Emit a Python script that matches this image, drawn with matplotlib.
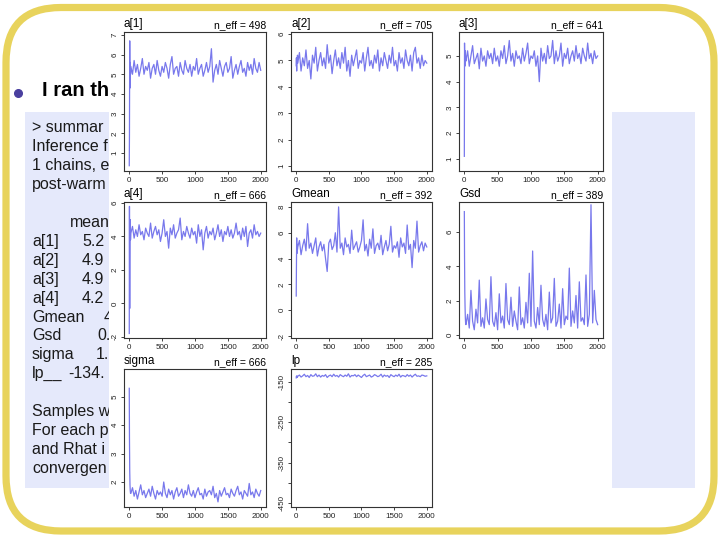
import numpy as np
import matplotlib
matplotlib.use("Agg")
import matplotlib.pyplot as plt
from matplotlib.patches import FancyBboxPatch, Rectangle

plt.rcParams['font.family'] = ['Liberation Sans', 'DejaVu Sans']

# ---------------- data ----------------
early_iter = [1, 4, 8, 12, 16, 20]
main_iter = list(range(25, 2001, 25))
iters = early_iter + main_iter

a1 = [0.35, 1.95, 6.7, 4.3, 5.6, 5.0,
      5.4, 5.0, 5.7, 5.1, 5.5, 4.9, 5.3, 5.8, 5.0, 5.4, 5.2, 5.6, 4.8, 5.3, 5.5, 5.0, 5.7, 5.2, 4.9, 5.4,
      5.1, 5.6, 5.3, 4.8, 5.5, 5.9, 5.0, 5.3, 5.4, 4.9, 5.6, 5.2, 5.0, 5.7, 5.3, 5.1, 5.5, 4.9, 5.4, 5.2,
      5.8, 5.0, 5.3, 5.5, 4.9, 5.2, 5.6, 5.1, 5.4, 6.3, 4.6, 5.2, 5.5, 5.0, 5.7, 5.3, 4.9, 5.4, 5.6, 5.1,
      5.3, 5.9, 4.8, 5.2, 5.5, 5.0, 5.4, 5.7, 5.1, 5.3, 4.9, 5.6, 5.2, 5.5, 5.0, 5.8, 5.3, 5.1, 5.6, 5.2]
a2 = [4.8, 5.1, 4.6, 5.0, 4.9, 5.2,
      4.9, 5.3, 4.6, 5.1, 4.8, 5.4, 4.7, 5.0, 4.3, 5.2, 4.9, 5.5, 4.6, 5.0, 5.3, 4.8, 5.1, 4.7, 5.6, 4.9,
      5.2, 4.5, 5.0, 5.4, 4.8, 5.1, 4.7, 5.3, 4.9, 5.5, 4.6, 5.0, 4.4, 5.2, 4.8, 5.1, 5.4, 4.7, 5.0, 4.9,
      5.3, 4.6, 5.1, 5.5, 4.8, 5.0, 4.7, 5.2, 4.9, 5.4, 4.6, 5.1, 4.8, 5.3, 5.0, 4.7, 5.2, 4.9, 5.5, 4.8,
      5.0, 4.6, 5.3, 4.9, 5.1, 4.7, 5.4, 5.0, 4.8, 5.2, 4.6, 5.3, 5.5, 4.9, 5.1, 4.7, 5.2, 4.8, 5.0, 4.9]
a3 = [1.1, 5.5, 4.6, 5.2, 4.8, 5.0,
      4.8, 5.2, 4.6, 5.0, 5.4, 4.7, 4.9, 5.1, 4.5, 5.3, 4.8, 5.0, 4.6, 5.2, 4.9, 5.1, 4.7, 5.3, 4.8, 5.0,
      4.6, 5.2, 4.9, 5.4, 4.7, 5.0, 5.6, 4.8, 5.1, 4.6, 5.2, 4.9, 5.0, 4.7, 5.3, 4.8, 5.1, 5.5, 4.7, 5.0,
      4.9, 5.2, 4.6, 5.0, 4.0, 5.3, 4.8, 5.1, 4.7, 5.4, 4.9, 5.0, 5.6, 4.7, 5.2, 4.8, 5.0, 5.5, 4.6, 5.1,
      4.9, 5.3, 4.7, 5.0, 5.2, 4.8, 5.4, 4.9, 5.1, 4.7, 5.3, 5.0, 4.8, 5.5, 4.9, 5.1, 4.7, 5.2, 4.9, 5.0]
a4 = [-1.8, 5.8, -0.3, 4.3, 5.0, 3.8,
      4.2, 4.6, 3.9, 4.4, 4.0, 4.7, 4.1, 4.3, 3.8, 4.5, 4.2, 4.0, 4.8, 3.9, 4.3, 4.6, 4.1, 4.4, 3.7, 4.2,
      5.0, 4.0, 4.3, 3.3, 4.5, 4.1, 4.7, 3.9, 4.2, 4.4, 5.1, 3.8, 4.3, 4.0, 4.6, 4.2, 3.9, 4.5, 4.1, 4.3,
      3.6, 4.7, 4.0, 4.4, 3.2, 4.2, 4.6, 3.9, 4.3, 4.1, 4.5, 3.8, 4.2, 4.7, 4.0, 4.4, 3.7, 4.3, 4.1, 4.6,
      4.0, 4.4, 3.9, 4.2, 4.8, 4.1, 4.3, 3.8, 4.5, 4.0, 4.6, 3.4, 4.2, 4.4, 3.9, 4.7, 4.1, 4.3, 4.0, 4.2]
gmean = [1.1, 3.2, 5.6, 4.4, 5.1, 4.7,
         4.9, 5.4, 4.3, 5.0, 5.5, 4.6, 6.7, 4.8, 5.2, 4.4, 5.0, 5.6, 4.2, 4.9, 5.3, 4.6, 5.1, 4.0, 3.0, 5.2,
         5.5, 4.7, 5.0, 6.0, 4.5, 8.0, 4.8, 5.2, 4.3, 5.6, 4.9, 5.1, 4.4, 6.2, 4.7, 5.0, 5.3, 4.5, 4.9, 5.4,
         7.0, 4.6, 5.1, 4.2, 5.5, 4.8, 6.3, 4.4, 5.0, 5.2, 4.7, 5.8, 4.3, 4.9, 5.4, 4.6, 5.1, 6.5, 4.5, 5.0,
         4.8, 5.3, 4.1, 5.6, 4.9, 5.2, 4.4, 6.6, 4.7, 5.1, 3.3, 5.4, 4.8, 6.9, 4.5, 5.0, 5.3, 4.6, 5.2, 4.9]
gsd = [7.2, 4.6, 2.5, 1.6, 1.0, 0.7,
       0.6, 1.2, 0.4, 2.6, 0.8, 0.3, 1.5, 0.7, 3.2, 0.5, 1.0, 0.4, 2.1, 0.9, 0.6, 3.4, 0.8, 0.5, 1.3, 0.3,
       2.4, 0.7, 1.1, 0.4, 3.0, 0.9, 0.6, 2.2, 0.5, 1.4, 0.8, 0.3, 2.8, 0.6, 1.0, 0.4, 1.9, 0.7, 3.6, 0.5,
       4.9, 0.8, 0.4, 1.6, 0.6, 2.9, 0.9, 0.5, 1.2, 0.3, 2.5, 0.7, 1.0, 3.3, 0.5, 0.8, 1.8, 0.4, 2.7, 0.6,
       1.1, 0.9, 3.9, 0.5, 1.4, 0.7, 2.3, 0.4, 3.1, 0.8, 1.0, 0.6, 3.5, 0.5, 1.2, 7.6, 0.7, 2.6, 0.9, 0.6]
sigma = [5.3, 3.6, 2.4, 1.9, 1.7, 1.6,
         1.6, 1.8, 1.5, 1.7, 1.4, 1.65, 1.9, 1.55, 1.7, 1.45, 1.6, 1.75, 1.5, 1.85, 1.6, 1.4, 1.7, 1.55, 1.65, 1.5,
         2.0, 1.6, 1.45, 1.75, 1.55, 1.7, 1.4, 1.65, 1.8, 1.5, 1.6, 1.75, 1.45, 1.7, 1.55, 1.9, 1.6, 1.5, 1.7, 1.45,
         1.65, 1.8, 1.55, 1.6, 1.4, 1.75, 1.5, 1.65, 1.7, 1.55, 1.85, 1.45, 1.6, 1.3, 1.7, 1.5, 1.65, 1.8, 1.55, 1.6,
         1.45, 1.75, 1.6, 1.5, 1.7, 1.85, 1.55, 1.65, 1.4, 1.7, 1.6, 1.5, 1.95, 1.55, 1.65, 1.45, 1.75, 1.6, 1.5, 1.7]
lp = [-140, -136, -138, -135, -139, -137,
      -136, -133, -138, -135, -131, -137, -134, -139, -132, -136, -135, -130, -137, -133, -138, -134, -136, -132, -139, -135,
      -133, -137, -131, -136, -134, -138, -132, -135, -137, -133, -136, -130, -138, -134, -135, -132, -137, -133, -136, -139,
      -134, -131, -137, -135, -133, -138, -136, -132, -134, -137, -135, -131, -138, -133, -136, -134, -139, -132, -135, -137,
      -133, -136, -131, -138, -134, -135, -137, -132, -136, -133, -138, -134, -131, -136, -135, -137, -133, -134, -136, -135]

names = ["a[1]", "a[2]", "a[3]", "a[4]", "Gmean", "Gsd", "sigma", "lp"]
n_eff = [498, 705, 641, 666, 392, 389, 666, 285]
traces = [a1, a2, a3, a4, gmean, gsd, sigma, lp]
yticks = [[1, 2, 3, 4, 5, 6, 7], [1, 2, 3, 4, 5, 6], [1, 2, 3, 4, 5], [-2, 0, 2, 4, 6],
          [-2, 0, 2, 4, 6, 8], [0, 2, 4, 6], [2, 3, 4, 5],
          [-450, -400, -350, -300, -250, -200, -150]]
ytick_labels = [None, None, None, None, None, None, None,
                ["-450", "", "-350", "", "-250", "", "-150"]]
ylims = [(0.08, 7.15), (0.81, 6.08), (0.53, 5.93), (-2.07, 6.06),
         (-2.15, 8.38), (-0.18, 7.76), (1.12, 5.98), (-460, -118)]
xticks = [0, 500, 1000, 1500, 2000]

slide_title = "I ran the"
text_lines = {0: "> summary", 1: "Inference fo", 2: "1 chains, ea", 3: "post-warmu",
              15: "Samples we", 16: "For each pa", 17: "and Rhat is", 18: "convergenc"}
summary_header = "mean"
summary_names = ["a[1]", "a[2]", "a[3]", "a[4]", "Gmean", "Gsd", "sigma", "lp__"]
summary_means = ["5.26", "4.91", "4.90", "4.26", "4.8", "0.85", "1.62", "-134.5"]

# ---------------- figure ----------------
W, H = 720, 540
fig = plt.figure(figsize=(7.2, 5.4), dpi=100)
bg = fig.add_axes([0, 0, 1, 1])
bg.set_xlim(0, W)
bg.set_ylim(H, 0)
bg.axis('off')

border = FancyBboxPatch((6, 7.5), 708, 523.5, boxstyle="round,pad=0,rounding_size=55",
                        fill=False, edgecolor='#E8D35C', linewidth=5.2, zorder=1)
bg.add_patch(border)
bg.add_patch(Rectangle((25, 112), 670, 376, facecolor='#E5E9FB', edgecolor='none', zorder=1))

CUT = 109
clip = Rectangle((0, 0), CUT, H, transform=bg.transData, facecolor='none', edgecolor='none')
bg.add_patch(clip)
renderer = fig.canvas.get_renderer()

def clipped_text(x, y, s, **kw):
    # text partly hidden behind the pasted plot image: keep only what shows left of it
    t = bg.text(x, y, s, va='center', ha='left', zorder=2, **kw)
    t.set_clip_path(clip)
    while len(t.get_text()) > 1:
        ext = t.get_window_extent(renderer=renderer)
        if ext.x1 <= CUT + 2:
            break
        t.set_text(t.get_text()[:-1])
    return t

bg.plot([18], [93], marker='o', markersize=5.5, color='#4A3F9F', zorder=2)
clipped_text(42, 91, slide_title, fontsize=14.5, fontweight='bold', color='black')

fs = 11.5
tc = '#1a1a1a'
for i, s in text_lines.items():
    clipped_text(32, 128 + 18.9 * i, s, fontsize=fs, color=tc)
clipped_text(70, 128 + 18.9 * 5, summary_header, fontsize=fs, color=tc)
val_x = [82, 82, 82, 82, 104, 97, 96, 68]
for k, (nm, mv) in enumerate(zip(summary_names, summary_means)):
    y = 128 + 18.9 * (6 + k)
    clipped_text(32, y, nm, fontsize=fs, color=tc)
    clipped_text(val_x[k], y, mv, fontsize=fs, color=tc)

# white plot image
bg.add_patch(Rectangle((CUT, 15), 612 - CUT, 512, facecolor='white', edgecolor='none', zorder=3))

cols = [(124, 266), (291, 432), (459, 603)]
rows = [(32, 171), (202, 338), (369, 507)]

for k in range(8):
    r, c = divmod(k, 3)
    x0, x1 = cols[c]
    y0, y1 = rows[r]
    ax = fig.add_axes([x0 / W, 1 - y1 / H, (x1 - x0) / W, (y1 - y0) / H])
    ax.set_facecolor('white')
    ax.plot(iters, traces[k], color='#7878EC', lw=0.9)
    ax.set_xlim(-79, 2080)
    ax.set_ylim(*ylims[k])
    ax.set_xticks(xticks)
    ax.set_xticklabels([str(v) for v in xticks])
    ax.set_yticks(yticks[k])
    labs = ytick_labels[k] if ytick_labels[k] is not None else [str(v) for v in yticks[k]]
    ax.set_yticklabels(labs, rotation=90, va='center')
    ax.tick_params(labelsize=5.8, length=2.5, width=0.6, pad=1.5, colors='#222222')
    for sp in ax.spines.values():
        sp.set_linewidth(0.8)
        sp.set_color('#333333')
    ax.text(0.0, 1.015, names[k], transform=ax.transAxes, fontsize=8.5, ha='left', va='bottom')
    ax.text(1.0, 1.015, f"n_eff = {n_eff[k]}", transform=ax.transAxes, fontsize=7.5,
            ha='right', va='bottom')

fig.savefig("out.png", dpi=100)
